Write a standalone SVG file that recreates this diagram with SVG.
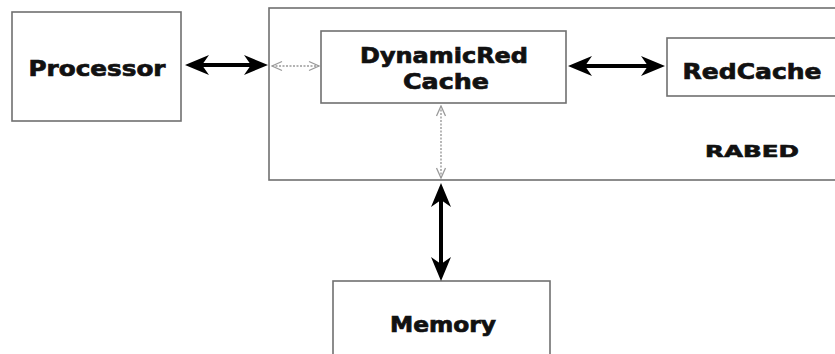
<svg xmlns="http://www.w3.org/2000/svg" width="835" height="354" viewBox="0 0 835 354">
  <style>
    .box { fill: #fff; stroke: #707070; stroke-width: 1.6; }
    .lbl { font-family: "DejaVu Sans", "Liberation Sans", sans-serif; font-weight: bold; font-size: 21px; fill: #111; stroke: #111; stroke-width: 0.7; text-anchor: middle; }
    .small { font-size: 16px; stroke-width: 0.6; }
    .bus { stroke: #000; stroke-width: 4; fill: none; marker-start: url(#barb); marker-end: url(#barb); }
    .link { stroke: #9a9a9a; stroke-width: 1.4; stroke-dasharray: 2 1.5; fill: none; marker-start: url(#open); marker-end: url(#open); }
  </style>
  <defs>
    <marker id="barb" markerUnits="userSpaceOnUse" viewBox="0 0 24 24" markerWidth="24" markerHeight="24" refX="17" refY="12" orient="auto-start-reverse">
      <path d="M0,2 L24,12 L0,22 L7,12 z" fill="#000"/>
    </marker>
    <marker id="open" markerUnits="userSpaceOnUse" viewBox="0 0 12 12" markerWidth="12" markerHeight="12" refX="11" refY="6" orient="auto-start-reverse">
      <path d="M1,1.5 L11,6 L1,10.5" fill="none" stroke="#9a9a9a" stroke-width="1.3"/>
    </marker>
  </defs>

  <rect width="835" height="354" fill="#fff"/>

  <g id="rabed">
    <rect class="box" x="269" y="8" width="580" height="172"/>
    <text class="lbl small" x="752" y="157" textLength="94" lengthAdjust="spacingAndGlyphs">RABED</text>
  </g>

  <g id="processor">
    <rect class="box" x="12" y="12" width="169" height="109"/>
    <text class="lbl" x="97" y="76" textLength="137" lengthAdjust="spacingAndGlyphs">Processor</text>
  </g>

  <g id="dynamicred-cache">
    <rect class="box" x="321" y="31" width="245" height="72"/>
    <text class="lbl" x="444" y="63" textLength="168" lengthAdjust="spacingAndGlyphs">DynamicRed</text>
    <text class="lbl" x="446" y="89" textLength="86" lengthAdjust="spacingAndGlyphs">Cache</text>
  </g>

  <g id="redcache">
    <rect class="box" x="667" y="38" width="180" height="58"/>
    <text class="lbl" x="752" y="79" textLength="139" lengthAdjust="spacingAndGlyphs">RedCache</text>
  </g>

  <g id="memory">
    <rect class="box" x="333" y="281" width="217" height="90"/>
    <text class="lbl" x="443" y="332" textLength="106" lengthAdjust="spacingAndGlyphs">Memory</text>
  </g>

  <g id="connectors">
    <line class="bus" x1="192" y1="65" x2="261" y2="65"/>
    <line class="bus" x1="575" y1="66" x2="658" y2="66"/>
    <line class="bus" x1="441" y1="190" x2="441" y2="274"/>
    <line class="link" x1="272" y1="66" x2="319" y2="66"/>
    <line class="link" x1="441" y1="106" x2="441" y2="178"/>
  </g>
</svg>
